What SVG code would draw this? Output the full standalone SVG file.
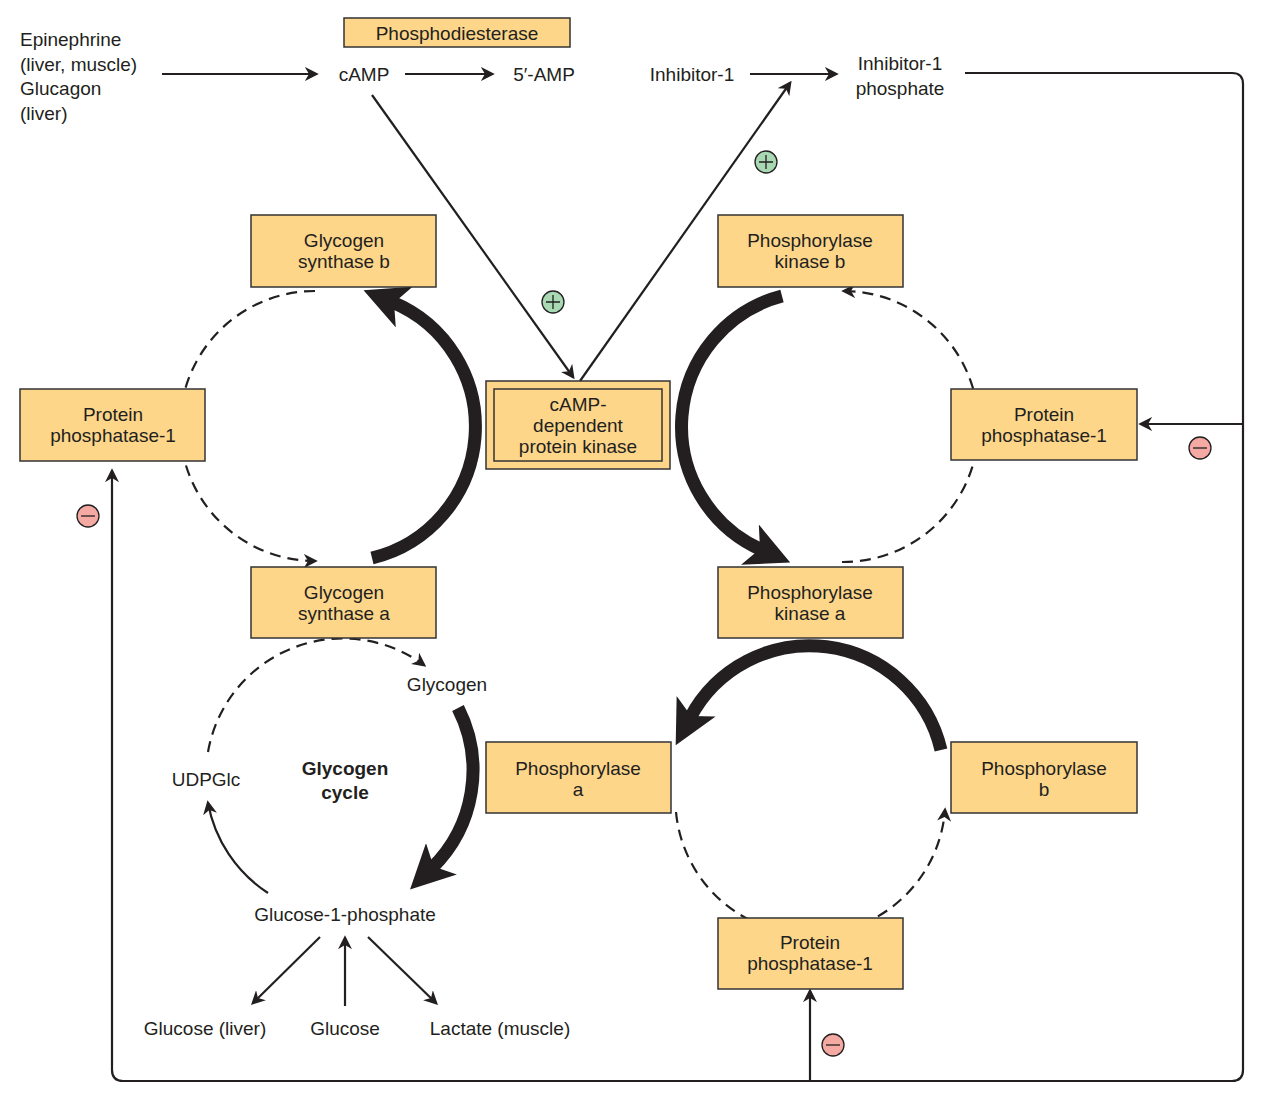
<svg xmlns="http://www.w3.org/2000/svg" width="1262" height="1100" viewBox="0 0 1262 1100">
<style>
.box{fill:#fdd68a;stroke:#333;stroke-width:1.5}
text{font-family:"Liberation Sans",Arial,sans-serif;font-size:19px;fill:#231f20;text-anchor:middle}
.l{text-anchor:start}
.thin{fill:none;stroke:#231f20;stroke-width:2.2}
.dash{fill:none;stroke:#231f20;stroke-width:2.2;stroke-dasharray:11 7}
.thick{fill:none;stroke:#231f20;stroke-width:13}
.sym{stroke:#231f20;stroke-width:1.3}
</style>
<defs>
<marker id="a" viewBox="0 0 10 10" refX="8" refY="5" markerWidth="7" markerHeight="7" orient="auto" markerUnits="userSpaceOnUse"><path d="M0,0 L10,5 L0,10 L3,5z" fill="#231f20"/></marker>
<marker id="a2" viewBox="0 0 10 10" refX="8" refY="5" markerWidth="14" markerHeight="14" orient="auto" markerUnits="userSpaceOnUse"><path d="M0,0 L10,5 L0,10 L3,5z" fill="#231f20"/></marker>
<marker id="t" viewBox="0 0 10 10" refX="3" refY="5" markerWidth="44" markerHeight="44" orient="auto" markerUnits="userSpaceOnUse"><path d="M0,0 L10,5 L0,10 L2.5,5z" fill="#231f20"/></marker>
</defs>
<g id="connectors">
<path class="thin" marker-end="url(#a2)" d="M162,74 H316"/>
<path class="thin" marker-end="url(#a2)" d="M405,74 H492"/>
<path class="thin" marker-end="url(#a2)" d="M750,74 H836"/>
<path class="thin" marker-end="url(#a2)" d="M372,95 L573,377"/>
<path class="thin" marker-end="url(#a2)" d="M580,381 L790,83"/>
<path class="thin" marker-end="url(#a2)" d="M965,73 H1232 Q1243,73 1243,84 V1070 Q1243,1081 1232,1081 H123 Q112,1081 112,1070 V471"/>
<path class="thin" marker-end="url(#a2)" d="M1243,424 H1141"/>
<path class="thin" marker-end="url(#a2)" d="M810,1081 V991"/>
<path class="thin" marker-end="url(#a2)" d="M320,937 L253,1003"/>
<path class="thin" marker-end="url(#a2)" d="M345,1006 V938"/>
<path class="thin" marker-end="url(#a2)" d="M368,937 L436,1003"/>
<!-- top-left cycle -->
<path class="thick" marker-end="url(#t)" d="M372,558 A135,135 0 0 0 392,302"/>
<path class="dash" marker-end="url(#a2)" d="M315,291 A135,135 0 0 0 315,561"/>
<!-- top-right cycle -->
<path class="thick" marker-end="url(#t)" d="M782,296 A135,135 0 0 0 762,550"/>
<path class="dash" marker-end="url(#a2)" d="M842,562 A135,135 0 0 0 844,291"/>
<!-- bottom-right cycle -->
<path class="thick" marker-end="url(#t)" d="M941,750 A135,135 0 0 0 690,718"/>
<path class="dash" marker-end="url(#a2)" d="M676,812 A135,135 0 0 0 945,810"/>
<!-- glycogen cycle -->
<path class="dash" marker-end="url(#a2)" d="M208,752 A137,137 0 0 1 424,665"/>
<path class="thick" marker-end="url(#t)" d="M458,708 A137,137 0 0 1 432,868"/>
<path class="thin" marker-end="url(#a2)" d="M268,893 A137,137 0 0 1 208,803"/>
</g>
<g id="signs">
<circle cx="553" cy="302" r="11" fill="#a9d9b3" class="sym"/><path d="M546,302h14M553,295v14" class="sym"/>
<circle cx="766" cy="162" r="11" fill="#a9d9b3" class="sym"/><path d="M759,162h14M766,155v14" class="sym"/>
<circle cx="1200" cy="448" r="11" fill="#f4a9a2" class="sym"/><path d="M1193,448h14" class="sym"/>
<circle cx="88" cy="516" r="11" fill="#f4a9a2" class="sym"/><path d="M81,516h14" class="sym"/>
<circle cx="833" cy="1045" r="11" fill="#f4a9a2" class="sym"/><path d="M826,1045h14" class="sym"/>
</g>
<g id="n-phosphodiesterase"><rect class="box" x="344" y="18" width="226" height="29"/><text x="457" y="40">Phosphodiesterase</text></g>
<g id="n-epi"><text class="l" x="20" y="46">Epinephrine</text><text class="l" x="20" y="71">(liver, muscle)</text><text class="l" x="20" y="95">Glucagon</text><text class="l" x="20" y="120">(liver)</text></g>
<g id="n-camp"><text x="364" y="81">cAMP</text></g>
<g id="n-5amp"><text x="544" y="81">5′-AMP</text></g>
<g id="n-inh1"><text x="692" y="81">Inhibitor-1</text></g>
<g id="n-inh1p"><text x="900" y="70">Inhibitor-1</text><text x="900" y="95">phosphate</text></g>
<g id="n-gsb"><rect class="box" x="251" y="215" width="185" height="72"/><text x="344" y="247">Glycogen</text><text x="344" y="268">synthase b</text></g>
<g id="n-pkb"><rect class="box" x="718" y="215" width="185" height="72"/><text x="810" y="247">Phosphorylase</text><text x="810" y="268">kinase b</text></g>
<g id="n-pp1l"><rect class="box" x="20" y="389" width="185" height="72"/><text x="113" y="421">Protein</text><text x="113" y="442">phosphatase-1</text></g>
<g id="n-pka"><rect class="box" x="486" y="381" width="184" height="88"/><rect x="494" y="389" width="168" height="72" fill="none" stroke="#333" stroke-width="1.5"/><text x="578" y="411">cAMP-</text><text x="578" y="432">dependent</text><text x="578" y="453">protein kinase</text></g>
<g id="n-pp1r"><rect class="box" x="951" y="389" width="186" height="71"/><text x="1044" y="421">Protein</text><text x="1044" y="442">phosphatase-1</text></g>
<g id="n-gsa"><rect class="box" x="251" y="567" width="185" height="71"/><text x="344" y="599">Glycogen</text><text x="344" y="620">synthase a</text></g>
<g id="n-pka2"><rect class="box" x="718" y="567" width="185" height="71"/><text x="810" y="599">Phosphorylase</text><text x="810" y="620">kinase a</text></g>
<g id="n-pa"><rect class="box" x="486" y="742" width="185" height="71"/><text x="578" y="775">Phosphorylase</text><text x="578" y="796">a</text></g>
<g id="n-pb"><rect class="box" x="951" y="742" width="186" height="71"/><text x="1044" y="775">Phosphorylase</text><text x="1044" y="796">b</text></g>
<g id="n-pp1b"><rect class="box" x="718" y="918" width="185" height="71"/><text x="810" y="949">Protein</text><text x="810" y="970">phosphatase-1</text></g>
<g id="n-glycogen"><text x="447" y="691">Glycogen</text></g>
<g id="n-udpg"><text x="206" y="786">UDPGlc</text></g>
<g id="n-cycle"><text x="345" y="775" font-weight="bold">Glycogen</text><text x="345" y="799" font-weight="bold">cycle</text></g>
<g id="n-g1p"><text x="345" y="921">Glucose-1-phosphate</text></g>
<g id="n-gl"><text x="205" y="1035">Glucose (liver)</text></g>
<g id="n-g"><text x="345" y="1035">Glucose</text></g>
<g id="n-lac"><text x="500" y="1035">Lactate (muscle)</text></g>
</svg>
